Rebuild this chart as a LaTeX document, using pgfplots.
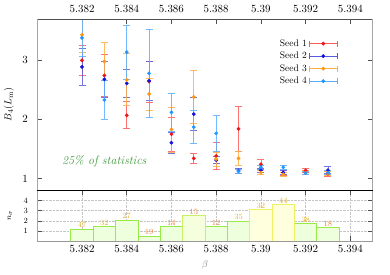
\documentclass[border=0pt]{standalone}
\usepackage{pgfplots}
\pgfplotsset{compat=1.18}
\definecolor{cR}{RGB}{240,20,20}
\definecolor{cRb}{RGB}{255,90,90}
\definecolor{cB}{RGB}{20,20,225}
\definecolor{cBb}{RGB}{90,90,220}
\definecolor{cO}{RGB}{255,150,20}
\definecolor{cOb}{RGB}{255,175,70}
\definecolor{cL}{RGB}{35,150,255}
\definecolor{cLb}{RGB}{90,175,255}
\definecolor{cG}{RGB}{60,150,60}
\definecolor{lblO}{RGB}{240,130,60}
\definecolor{lblY}{RGB}{225,175,40}
\definecolor{gFill}{RGB}{238,255,222}
\definecolor{gDraw}{RGB}{150,235,70}
\definecolor{gyFill}{RGB}{245,255,222}
\definecolor{gyDraw}{RGB}{200,240,100}
\definecolor{yFill}{RGB}{255,255,222}
\definecolor{yDraw}{RGB}{240,240,100}
\definecolor{tickc}{RGB}{80,80,80}

\pgfplotstableread{
x y e
5.382 3.00 0.25
5.383 2.745 0.355
5.384 2.07 0.23
5.385 2.64 0.35
5.386 1.75 0.29
5.387 1.34 0.09
5.388 1.38 0.23
5.389 1.84 0.38
5.390 1.24 0.08
5.391 1.10 0.04
5.392 1.135 0.04
5.393 1.08 0.04
}\seedA
\pgfplotstableread{
x y e
5.382 2.89 0.31
5.383 2.68 0.30
5.384 2.61 0.23
5.385 2.655 0.33
5.386 1.605 0.18
5.387 2.09 0.28
5.388 1.31 0.06
5.389 1.13 0.04
5.390 1.14 0.03
5.391 1.10 0.03
5.392 1.10 0.03
5.393 1.14 0.06
}\seedB
\pgfplotstableread{
x y e
5.382 3.43 0.30
5.383 2.98 0.32
5.384 2.67 0.44
5.385 2.43 0.27
5.386 1.83 0.38
5.387 2.38 0.45
5.388 1.33 0.12
5.389 1.34 0.12
5.390 1.10 0.03
5.391 1.07 0.03
5.392 1.10 0.03
5.393 1.09 0.03
}\seedC
\pgfplotstableread{
x y e
5.382 3.38 0.31
5.383 2.33 0.33
5.384 3.14 0.46
5.385 2.78 0.75
5.386 2.12 0.32
5.387 1.87 0.28
5.388 1.765 0.30
5.389 1.12 0.04
5.390 1.19 0.04
5.391 1.19 0.04
5.392 1.095 0.03
5.393 1.10 0.03
}\seedD

\pgfplotsset{
  seedleg/.style n args={2}{
    legend image code/.code={
      \draw[#2, line width=0.8pt] (0pt,0pt) -- (28pt,0pt);
      \draw[#2, line width=0.8pt] (0pt,-3pt) -- (0pt,3pt) (28pt,-3pt) -- (28pt,3pt);
      \fill[#1] (14pt,0pt) circle (1.7pt);
    }
  },
  seedstyle/.style n args={2}{
    seedleg={#1}{#2},
    color=#1, only marks, mark=*, mark size=1.7pt,
    mark options={fill=#1, draw=#1},
    error bars/.cd, y dir=both, y explicit,
    error bar style={#2, line width=0.8pt, opacity=0.85},
    error mark options={rotate=90, mark size=3.5pt, #2, line width=0.8pt, opacity=0.85},
  },
}

\begin{document}
\begin{tikzpicture}
\useasboundingbox (0,0) rectangle (390pt,274pt);
\begin{axis}[
  at={(37.3pt,83.7pt)}, anchor=south west, scale only axis,
  width=335.4pt, height=171.3pt,
  xmin=5.380, xmax=5.395, ymin=0.8, ymax=3.7,
  xtick={5.382,5.384,5.386,5.388,5.390,5.392,5.394},
  xtick pos=upper, xticklabel pos=upper,
  ytick={1,2,3}, ytick pos=both, yticklabel pos=left,
  tick align=inside, major tick length=5pt,
  tick style={tickc, line width=0.6pt},
  axis line style={draw=none},
  x tick label style={/pgf/number format/.cd, fixed, precision=3, /tikz/.cd, yshift=3pt, font=\fontsize{10.5}{12}\selectfont},
  y tick label style={xshift=-6pt, font=\fontsize{10.5}{12}\selectfont},
  ylabel={$B_4(L_{\mathrm{m}})$},
  ylabel style={at={(axis description cs:-0.085,0.5)}, anchor=center},
  legend style={draw=none, fill=none, at={(rel axis cs:0.905,0.905)}, anchor=north east,
    font=\fontsize{9.5}{11}\selectfont, row sep=0.3pt},
  legend cell align=right, legend plot pos=right,
]
\addplot[seedstyle={cR}{cRb}] table[x=x, y=y, y error=e] {\seedA};
\addlegendentry{Seed 1}
\addplot[seedstyle={cB}{cBb}] table[x=x, y=y, y error=e] {\seedB};
\addlegendentry{Seed 2}
\addplot[seedstyle={cO}{cOb}] table[x=x, y=y, y error=e] {\seedC};
\addlegendentry{Seed 3}
\addplot[seedstyle={cL}{cLb}] table[x=x, y=y, y error=e] {\seedD};
\addlegendentry{Seed 4}
\node[text=cG, font=\fontsize{12}{14}\selectfont\itshape] at (axis cs:5.383,1.29) {25\% of statistics};
\end{axis}

\begin{axis}[
  at={(37.3pt,32.7pt)}, anchor=south west, scale only axis,
  width=335.4pt, height=51pt,
  xmin=5.380, xmax=5.395, ymin=0, ymax=5,
  xtick={5.382,5.384,5.386,5.388,5.390,5.392,5.394},
  xtick pos=both, xticklabel pos=lower,
  ytick={1,2,3,4}, ytick pos=both, yticklabel pos=left,
  tick align=inside, major tick length=5pt,
  tick style={tickc, line width=0.6pt},
  axis line style={draw=none},
  grid=major, grid style={densely dotted, gray!45, line width=0.5pt},
  x tick label style={/pgf/number format/.cd, fixed, precision=3, /tikz/.cd, yshift=-1pt, font=\fontsize{10.5}{12}\selectfont},
  y tick label style={font=\footnotesize, xshift=-6pt},
  xlabel={$\beta$}, xlabel style={text=gray, at={(axis description cs:0.5,-0.46)}, anchor=center},
  ylabel={$n_\sigma$}, ylabel style={font=\footnotesize, at={(axis description cs:-0.082,0.5)}, anchor=center},
]
\addplot[ybar, bar width=0.001, bar shift=0pt, fill=gFill, draw=gDraw, line width=0.8pt]
  coordinates {(5.382,1.19) (5.383,1.46) (5.384,2.07) (5.385,0.51) (5.386,1.46) (5.388,1.46) (5.389,1.97) (5.392,1.75) (5.393,1.32)};
\addplot[ybar, bar width=0.001, bar shift=0pt, fill=gyFill, draw=gyDraw, line width=0.8pt]
  coordinates {(5.387,2.52)};
\addplot[ybar, bar width=0.001, bar shift=0pt, fill=yFill, draw=yDraw, line width=0.8pt]
  coordinates {(5.390,3.10) (5.391,3.62)};
\addplot[only marks, mark=none, nodes near coords, point meta=explicit symbolic,
  nodes near coords style={font=\footnotesize, text=lblY, anchor=south, inner sep=1pt}]
  coordinates {(5.382,1.19)[47] (5.383,1.46)[32] (5.384,2.07)[27] (5.389,1.97)[35] (5.390,3.10)[32] (5.391,3.62)[44] (5.392,1.75)[38]};
\addplot[only marks, mark=none, nodes near coords, point meta=explicit symbolic,
  nodes near coords style={font=\footnotesize, text=lblO, anchor=south, inner sep=1pt}]
  coordinates {(5.385,0.51)[19] (5.386,1.46)[14] (5.387,2.52)[15] (5.388,1.46)[12] (5.393,1.32)[18]};
\end{axis}

% frame lines
\draw[tickc, line width=0.6pt] (37.3pt,255pt) -- (372.7pt,255pt);
\draw[gray!70, line width=1.1pt] (37.3pt,83.7pt) -- (37.3pt,255pt);
\draw[gray!70, line width=1.1pt] (372.7pt,83.7pt) -- (372.7pt,255pt);
\draw[gray!70, line width=1.1pt] (37.3pt,32.7pt) -- (37.3pt,83.7pt);
\draw[gray!70, line width=1.1pt] (372.7pt,32.7pt) -- (372.7pt,83.7pt);
\draw[gray!80, line width=0.8pt] (37.3pt,32.7pt) -- (372.7pt,32.7pt);
\draw[black, line width=0.8pt] (37.3pt,83.7pt) -- (372.7pt,83.7pt);
\end{tikzpicture}
\end{document}
